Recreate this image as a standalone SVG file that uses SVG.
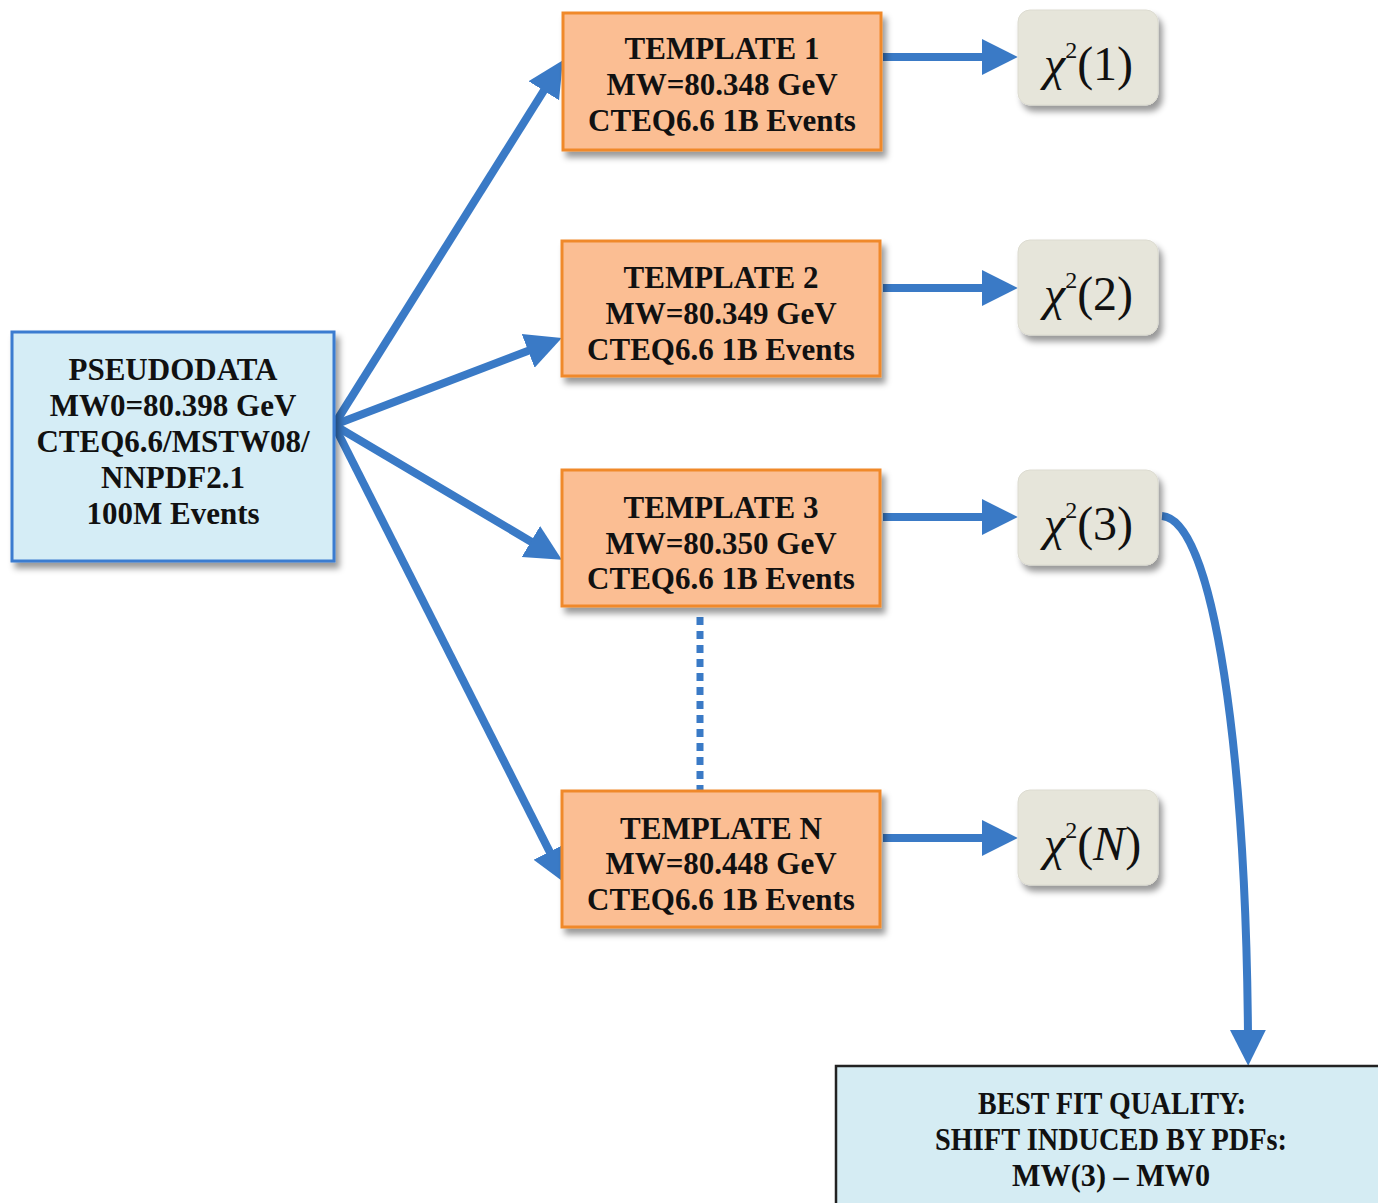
<svg xmlns="http://www.w3.org/2000/svg" width="1378" height="1203" viewBox="0 0 1378 1203">
<defs>
<filter id="sh" x="-10%" y="-10%" width="130%" height="140%">
<feDropShadow dx="4" dy="6" stdDeviation="3" flood-color="#000" flood-opacity="0.4"/>
</filter>
<marker id="ah" viewBox="0 0 10 10" markerWidth="4.5" markerHeight="5" refX="2" refY="5" orient="auto" markerUnits="strokeWidth">
<path d="M0,0 L10,5 L0,10 z" fill="#3a7ac6"/>
</marker>
<style>
.t{font-family:"Liberation Serif","Times New Roman",serif;font-weight:bold;font-size:31px;fill:#111;text-anchor:middle}
.chi{font-family:"Liberation Serif","Times New Roman",serif;font-size:48px;fill:#111}
.tpl{fill:#fbbe93;stroke:#f0892a;stroke-width:3}
.blue{fill:#d5edf6;stroke:#3b7bd0;stroke-width:3}
.cb{fill:#e6e5da;stroke:#dcdbd0;stroke-width:1}
.c{stroke:#3a7ac6;stroke-width:8;fill:none;marker-end:url(#ah)}
</style>
</defs>
<rect width="1378" height="1203" fill="#fff"/>
<g id="connectors">
<line class="c" x1="334" y1="425" x2="547.6" y2="84.6"/>
<line class="c" x1="334" y1="425" x2="534.9" y2="348.3"/>
<line class="c" x1="334" y1="425" x2="537.1" y2="545.2"/>
<line class="c" x1="334" y1="425" x2="552.9" y2="858.1"/>
<line class="c" x1="883" y1="57" x2="989" y2="57"/>
<line class="c" x1="883" y1="288" x2="989" y2="288"/>
<line class="c" x1="883" y1="517" x2="989" y2="517"/>
<line class="c" x1="883" y1="838" x2="989" y2="838"/>
<path class="c" d="M1162,516 C1215,520 1246,760 1248,1037"/>
<line x1="700" y1="617" x2="700" y2="790" stroke="#3a7ac6" stroke-width="7" stroke-dasharray="8 6"/>
</g>
<g id="pseudodata">
<rect class="blue" x="12" y="332" width="322" height="229" filter="url(#sh)"/>
<text class="t" x="173" y="380">PSEUDODATA</text>
<text class="t" x="173" y="416">MW0=80.398 GeV</text>
<text class="t" x="173" y="452">CTEQ6.6/MSTW08/</text>
<text class="t" x="173" y="488">NNPDF2.1</text>
<text class="t" x="173" y="524">100M Events</text>
</g>
<g id="template1">
<rect class="tpl" x="563" y="13" width="318" height="137" filter="url(#sh)"/>
<text class="t" x="722" y="59">TEMPLATE 1</text>
<text class="t" x="722" y="95">MW=80.348 GeV</text>
<text class="t" x="722" y="131">CTEQ6.6 1B Events</text>
</g>
<g id="template2">
<rect class="tpl" x="562" y="241" width="318" height="135" filter="url(#sh)"/>
<text class="t" x="721" y="288">TEMPLATE 2</text>
<text class="t" x="721" y="324">MW=80.349 GeV</text>
<text class="t" x="721" y="360">CTEQ6.6 1B Events</text>
</g>
<g id="template3">
<rect class="tpl" x="562" y="470" width="318" height="136" filter="url(#sh)"/>
<text class="t" x="721" y="518">TEMPLATE 3</text>
<text class="t" x="721" y="554">MW=80.350 GeV</text>
<text class="t" x="721" y="589">CTEQ6.6 1B Events</text>
</g>
<g id="templateN">
<rect class="tpl" x="562" y="791" width="318" height="136" filter="url(#sh)"/>
<text class="t" x="721" y="839">TEMPLATE N</text>
<text class="t" x="721" y="874">MW=80.448 GeV</text>
<text class="t" x="721" y="910">CTEQ6.6 1B Events</text>
</g>
<g id="chi1">
<rect class="cb" x="1018" y="10" width="140" height="95" rx="12" filter="url(#sh)"/>
<text class="chi" x="1044" y="80"><tspan font-style="italic">χ</tspan><tspan font-size="24" dy="-22">2</tspan><tspan dy="22">(1)</tspan></text>
</g>
<g id="chi2">
<rect class="cb" x="1018" y="240" width="140" height="95" rx="12" filter="url(#sh)"/>
<text class="chi" x="1044" y="310"><tspan font-style="italic">χ</tspan><tspan font-size="24" dy="-22">2</tspan><tspan dy="22">(2)</tspan></text>
</g>
<g id="chi3">
<rect class="cb" x="1018" y="470" width="140" height="95" rx="12" filter="url(#sh)"/>
<text class="chi" x="1044" y="540"><tspan font-style="italic">χ</tspan><tspan font-size="24" dy="-22">2</tspan><tspan dy="22">(3)</tspan></text>
</g>
<g id="chiN">
<rect class="cb" x="1018" y="790" width="140" height="95" rx="12" filter="url(#sh)"/>
<text class="chi" x="1044" y="860"><tspan font-style="italic">χ</tspan><tspan font-size="24" dy="-22">2</tspan><tspan dy="22">(</tspan><tspan font-style="italic">N</tspan><tspan>)</tspan></text>
</g>
<g id="bestfit">
<rect x="836" y="1066" width="560" height="150" fill="#d5ecf3" stroke="#222" stroke-width="2.5"/>
<text class="t" x="1112" y="1114" textLength="268" lengthAdjust="spacingAndGlyphs">BEST FIT QUALITY:</text>
<text class="t" x="1111" y="1150" textLength="352" lengthAdjust="spacingAndGlyphs">SHIFT INDUCED BY PDFs:</text>
<text class="t" x="1111" y="1186" textLength="198" lengthAdjust="spacingAndGlyphs">MW(3) – MW0</text>
</g>
</svg>
